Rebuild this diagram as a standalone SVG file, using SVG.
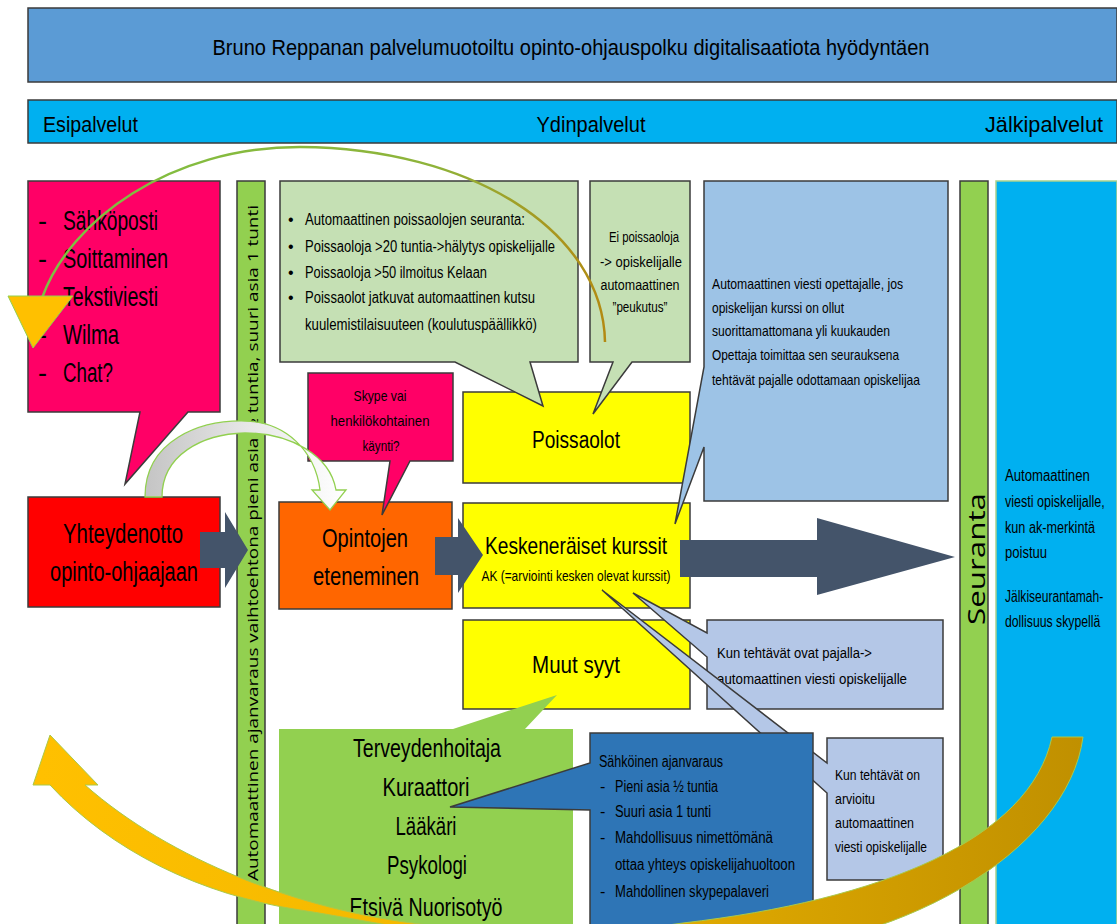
<svg xmlns="http://www.w3.org/2000/svg" width="1117" height="924" viewBox="0 0 1117 924">
<defs>
<style>
text{font-family:"Liberation Sans",Arial,sans-serif;fill:#000}
.c{text-anchor:middle}
.b{stroke:#3b3b3b;stroke-width:1.5}
.os{font-family:"Open Sans","DejaVu Sans",sans-serif}
.dark{fill:#44546A}
</style>
<linearGradient id="gArc" gradientUnits="userSpaceOnUse" x1="40" y1="0" x2="605" y2="0"><stop offset="0" stop-color="#7DC142"/><stop offset="0.7" stop-color="#8FB33A"/><stop offset="1" stop-color="#B38A12"/></linearGradient>
<linearGradient id="gGold" gradientUnits="userSpaceOnUse" x1="40" y1="0" x2="1083" y2="0"><stop offset="0" stop-color="#FFC000"/><stop offset="0.4" stop-color="#F2B800"/><stop offset="1" stop-color="#C09000"/></linearGradient>
<linearGradient id="gGray" gradientUnits="userSpaceOnUse" x1="145" y1="0" x2="345" y2="0"><stop offset="0" stop-color="#C4C4C4"/><stop offset="0.5" stop-color="#E6E6E6"/><stop offset="1" stop-color="#FFFFFF"/></linearGradient>
</defs>
<rect width="1117" height="924" fill="#FFFFFF"/>

<g id="header">
<rect x="28" y="8" width="1089" height="74" fill="#5B9BD5" class="b"/>
<text class="c" x="571" y="55" font-size="22" textLength="717" lengthAdjust="spacingAndGlyphs">Bruno Reppanan palvelumuotoiltu opinto-ohjauspolku digitalisaatiota hyödyntäen</text>
</g>
<g id="phases">
<rect x="28" y="100" width="1089" height="43" fill="#00B0F0" class="b"/>
<text x="43" y="132" font-size="22" textLength="95" lengthAdjust="spacingAndGlyphs">Esipalvelut</text>
<text class="c" x="591" y="132" font-size="22" textLength="109" lengthAdjust="spacingAndGlyphs">Ydinpalvelut</text>
<text x="985" y="132" font-size="22" textLength="118" lengthAdjust="spacingAndGlyphs">Jälkipalvelut</text>
</g>

<g id="kanavat">
<path d="M28,181 H220 V412 H188 L125,484 L140,412 H28 Z" fill="#FF0066" class="b"/>
<g font-size="27">
<text x="38" y="230">-</text><text x="63" y="230" textLength="95" lengthAdjust="spacingAndGlyphs">Sähköposti</text>
<text x="38" y="268">-</text><text x="63" y="268" textLength="105" lengthAdjust="spacingAndGlyphs">Soittaminen</text>
<text x="38" y="306">-</text><text x="63" y="306" textLength="95" lengthAdjust="spacingAndGlyphs">Tekstiviesti</text>
<text x="38" y="344">-</text><text x="63" y="344" textLength="56" lengthAdjust="spacingAndGlyphs">Wilma</text>
<text x="38" y="382">-</text><text x="63" y="382" textLength="50" lengthAdjust="spacingAndGlyphs">Chat?</text>
</g>
</g>

<g id="ajanvaraus">
<rect x="237" y="181" width="28" height="750" fill="#92D050" class="b"/>
<text class="c os" transform="translate(258,543) rotate(-90)" font-size="14" textLength="676" lengthAdjust="spacingAndGlyphs">Automaattinen ajanvaraus vaihtoehtona pieni asia ½ tuntia, suuri asia 1 tunti</text>
</g>

<g id="seuranta">
<rect x="960" y="181" width="28" height="750" fill="#92D050" class="b"/>
<text class="c os" transform="translate(985,559) rotate(-90)" font-size="23" textLength="132" lengthAdjust="spacingAndGlyphs">Seuranta</text>
</g>

<g id="jalkipalvelut">
<rect x="996" y="181" width="121" height="750" fill="#00B0F0" stroke="#A9D18E" stroke-width="1.5"/>
<g font-size="16" transform="translate(1005,0) scale(0.75,1)">
<text x="0" y="481" textLength="113" lengthAdjust="spacingAndGlyphs">Automaattinen</text>
<text x="0" y="507" textLength="133" lengthAdjust="spacingAndGlyphs">viesti opiskelijalle,</text>
<text x="0" y="533" textLength="120" lengthAdjust="spacingAndGlyphs">kun ak-merkintä</text>
<text x="0" y="558" textLength="56" lengthAdjust="spacingAndGlyphs">poistuu</text>
<text x="0" y="602" textLength="131" lengthAdjust="spacingAndGlyphs">Jälkiseurantamah-</text>
<text x="0" y="627" textLength="127" lengthAdjust="spacingAndGlyphs">dollisuus skypellä</text>
</g>
</g>

<g id="yhteydenotto">
<rect x="28" y="497" width="192" height="110" fill="#FF0000" class="b"/>
<text class="c" x="123" y="543" font-size="27" textLength="120" lengthAdjust="spacingAndGlyphs">Yhteydenotto</text>
<text class="c" x="124" y="581" font-size="27" textLength="148" lengthAdjust="spacingAndGlyphs">opinto-ohjaajaan</text>
</g>

<g id="opintojen">
<rect x="279" y="502" width="173" height="107" fill="#FF6600" class="b"/>
<text class="c" x="365" y="547" font-size="25" textLength="86" lengthAdjust="spacingAndGlyphs">Opintojen</text>
<text class="c" x="366" y="585" font-size="25" textLength="106" lengthAdjust="spacingAndGlyphs">eteneminen</text>
</g>

<g id="poissaolot">
<rect x="463" y="392" width="227" height="91" fill="#FFFF00" class="b"/>
<text class="c" x="576" y="448" font-size="23" textLength="88" lengthAdjust="spacingAndGlyphs">Poissaolot</text>
</g>

<g id="keskeneraiset">
<rect x="463" y="503" width="227" height="105" fill="#FFFF00" class="b"/>
<text class="c" x="576" y="554" font-size="24" textLength="182" lengthAdjust="spacingAndGlyphs">Keskeneräiset kurssit</text>
<text class="c" x="576" y="581" font-size="15" textLength="189" lengthAdjust="spacingAndGlyphs">AK (=arviointi kesken olevat kurssit)</text>
</g>

<g id="muut">
<rect x="463" y="620" width="227" height="89" fill="#FFFF00" class="b"/>
<text class="c" x="576" y="673" font-size="23" textLength="88" lengthAdjust="spacingAndGlyphs">Muut syyt</text>
</g>

<g id="seurantaCallout">
<path d="M280,181 H578 V362 H530 L543,406 L455,362 H280 Z" fill="#C5E0B4" class="b"/>
<g font-size="16">
<text x="288" y="225">•</text><text x="305" y="225" textLength="220" lengthAdjust="spacingAndGlyphs">Automaattinen poissaolojen seuranta:</text>
<text x="288" y="252">•</text><text x="305" y="252" textLength="250" lengthAdjust="spacingAndGlyphs">Poissaoloja &gt;20 tuntia-&gt;hälytys opiskelijalle</text>
<text x="288" y="278">•</text><text x="305" y="278" textLength="182" lengthAdjust="spacingAndGlyphs">Poissaoloja &gt;50 ilmoitus Kelaan</text>
<text x="288" y="303">•</text><text x="305" y="303" textLength="230" lengthAdjust="spacingAndGlyphs">Poissaolot jatkuvat automaattinen kutsu</text>
<text x="305" y="330" textLength="232" lengthAdjust="spacingAndGlyphs">kuulemistilaisuuteen (koulutuspäällikkö)</text>
</g>
</g>

<g id="peukutus">
<path d="M590,181 H690 V362 H632 L593,414 L613,362 H590 Z" fill="#C5E0B4" class="b"/>
<g font-size="15.5">
<text class="c" x="644" y="242" textLength="70" lengthAdjust="spacingAndGlyphs">Ei poissaoloja</text>
<text class="c" x="641" y="267" textLength="82" lengthAdjust="spacingAndGlyphs">-&gt; opiskelijalle</text>
<text class="c" x="640" y="290" textLength="79" lengthAdjust="spacingAndGlyphs">automaattinen</text>
<text class="c" x="640" y="312" textLength="55" lengthAdjust="spacingAndGlyphs">”peukutus”</text>
</g>
</g>

<g id="opettajaviesti">
<path d="M704,181 H948 V501 H704 V447 L675,524 L704,367 Z" fill="#9DC3E6" class="b"/>
<g font-size="15">
<text x="712" y="289" textLength="191" lengthAdjust="spacingAndGlyphs">Automaattinen viesti opettajalle, jos</text>
<text x="712" y="313" textLength="132" lengthAdjust="spacingAndGlyphs">opiskelijan kurssi on ollut</text>
<text x="712" y="336" textLength="178" lengthAdjust="spacingAndGlyphs">suorittamattomana yli kuukauden</text>
<text x="712" y="360" textLength="187" lengthAdjust="spacingAndGlyphs">Opettaja toimittaa sen seurauksena</text>
<text x="712" y="385" textLength="208" lengthAdjust="spacingAndGlyphs">tehtävät pajalle odottamaan opiskelijaa</text>
</g>
</g>

<g id="skype">
<path d="M308,373 H453 V461 H410 L382,515 L390,461 H308 Z" fill="#FF0066" class="b"/>
<g font-size="15">
<text class="c" x="380" y="401" textLength="53" lengthAdjust="spacingAndGlyphs">Skype vai</text>
<text class="c" x="380" y="426" textLength="99" lengthAdjust="spacingAndGlyphs">henkilökohtainen</text>
<text class="c" x="381" y="451" textLength="37" lengthAdjust="spacingAndGlyphs">käynti?</text>
</g>
</g>

<g id="pajalla">
<path d="M707,620 H943 V709 H707 V657 L633,593 L707,633 Z" fill="#B4C7E7" class="b"/>
<text x="717" y="658" font-size="15.5" textLength="155" lengthAdjust="spacingAndGlyphs">Kun tehtävät ovat pajalla-&gt;</text>
<text x="717" y="684" font-size="15.5" textLength="190" lengthAdjust="spacingAndGlyphs">automaattinen viesti opiskelijalle</text>
</g>

<g id="arvioitu">
<path d="M827,738 H943 V880 H827 V793 L602,590 L827,763 Z" fill="#B4C7E7" class="b"/>
<g font-size="15.5">
<text x="835" y="780" textLength="85" lengthAdjust="spacingAndGlyphs">Kun tehtävät on</text>
<text x="835" y="804" textLength="40" lengthAdjust="spacingAndGlyphs">arvioitu</text>
<text x="835" y="828" textLength="79" lengthAdjust="spacingAndGlyphs">automaattinen</text>
<text x="835" y="852" textLength="92" lengthAdjust="spacingAndGlyphs">viesti opiskelijalle</text>
</g>
</g>

<g id="opiskelijahuolto">
<path d="M279,729 H453 L557,695 L525,729 H573 V930 H279 Z" fill="#92D050"/>
<g font-size="25">
<text class="c" x="427" y="757" textLength="148" lengthAdjust="spacingAndGlyphs">Terveydenhoitaja</text>
<text class="c" x="426" y="796" textLength="87" lengthAdjust="spacingAndGlyphs">Kuraattori</text>
<text class="c" x="426" y="835" textLength="61" lengthAdjust="spacingAndGlyphs">Lääkäri</text>
<text class="c" x="427" y="874" textLength="80" lengthAdjust="spacingAndGlyphs">Psykologi</text>
<text class="c" x="426" y="916" textLength="153" lengthAdjust="spacingAndGlyphs">Etsivä Nuorisotyö</text>
</g>
</g>

<g id="sahkoinen">
<path d="M590,733 H813 V930 H590 V810 L450,807 L590,763 Z" fill="#2E75B6" class="b"/>
<g font-size="16">
<text x="599" y="767" textLength="124" lengthAdjust="spacingAndGlyphs">Sähköinen ajanvaraus</text>
<text x="600" y="792">-</text><text x="615" y="792" textLength="103" lengthAdjust="spacingAndGlyphs">Pieni asia ½ tuntia</text>
<text x="600" y="817">-</text><text x="615" y="817" textLength="96" lengthAdjust="spacingAndGlyphs">Suuri asia 1 tunti</text>
<text x="600" y="843">-</text><text x="615" y="843" textLength="158" lengthAdjust="spacingAndGlyphs">Mahdollisuus nimettömänä</text>
<text x="615" y="870" textLength="180" lengthAdjust="spacingAndGlyphs">ottaa yhteys opiskelijahuoltoon</text>
<text x="600" y="897">-</text><text x="615" y="897" textLength="154" lengthAdjust="spacingAndGlyphs">Mahdollinen skypepalaveri</text>
</g>
</g>

<g id="connectors">
<path class="dark" d="M200,532 H225 V512 L248,550 L225,588 V568 H200 Z"/>
<path class="dark" d="M435,537 H458 V518 L483,555 L458,593 V575 H435 Z"/>
<path class="dark" d="M680,540 H817 V518 L955,557 L817,595 V577 H680 Z"/>
<path d="M145,497 C145,440 200,420 245,421 C285,422 315,450 320,490 L312,490 L330,510 L346,490 L336,490 C330,455 290,433 245,433 C202,434 162,455 162,497 Z" fill="url(#gGray)" stroke="#92D050" stroke-width="1.3"/>
<path d="M605,342 C603,230 470,148 300,147 C170,147 70,220 42,298" fill="none" stroke="url(#gArc)" stroke-width="2.5"/>
<polygon points="8,296 73,296 33,348" fill="#FFC000" stroke="#92D050" stroke-width="1"/>
<path d="M1052,737 C1030,840 880,900 683,923 C600,935 500,935 420,924 C300,910 170,860 85,785 L98,785 L50,735 L33,785 L50,785 C110,850 200,895 300,910 C380,922 520,955 700,955 C900,955 1068,850 1083,737 Z" fill="url(#gGold)" stroke="#A9C94A" stroke-width="1"/>
</g>
</svg>
